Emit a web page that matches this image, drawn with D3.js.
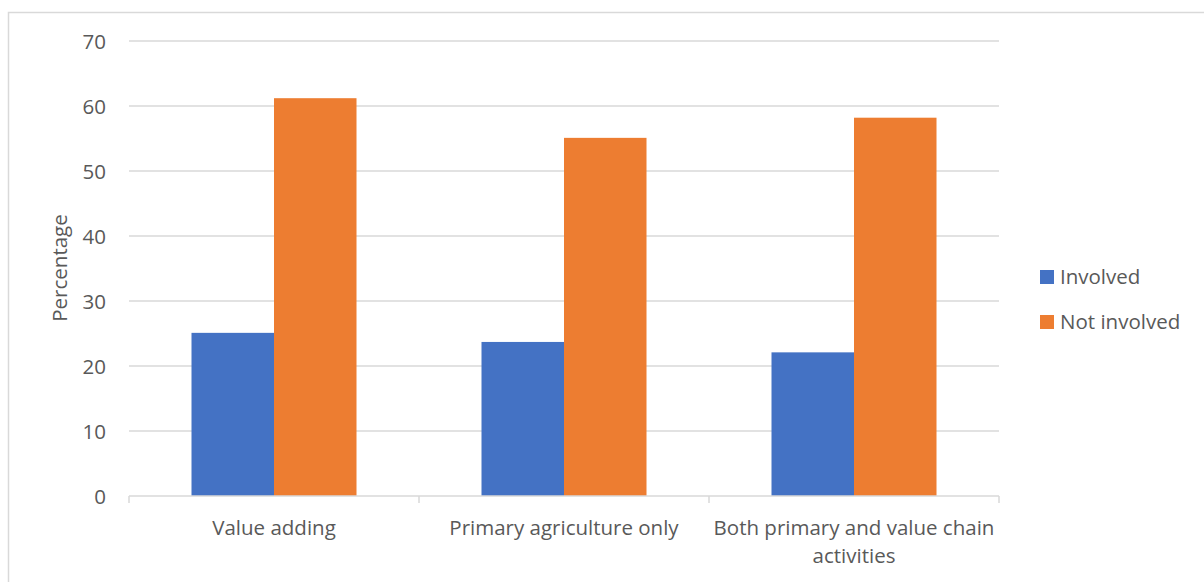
<!DOCTYPE html>
<html><head><meta charset="utf-8">
<script src="https://cdn.jsdelivr.net/npm/d3@7"></script>
<style>body{margin:0;background:#fff;} svg{display:block;font-family:"Open Sans",sans-serif;}</style>
</head><body>
<svg id="c" width="1204" height="582"></svg>
<script>
const categories = ["Value adding", "Primary agriculture only", "Both primary and value chain activities"];
const categoryLines = [["Value adding"], ["Primary agriculture only"], ["Both primary and value chain", "activities"]];
const seriesNames = ["Involved", "Not involved"];
const involved = [25.1, 23.7, 22.1];
const notInvolved = [61.2, 55.1, 58.2];
const yTicks = [0, 10, 20, 30, 40, 50, 60, 70];
const colors = ["#4472c4", "#ed7d31"];

(function () {
const FS = "20.5px";
const svg = d3.select("#c");
svg.append("rect").attr("x", 8.5).attr("y", 12.5).attr("width", 1220).attr("height", 600)
  .attr("fill", "none").attr("stroke", "#d9d9d9").attr("stroke-width", 1.5);

const pL = 129, pR = 999, pT = 41, pB = 496;
const y = d3.scaleLinear().domain([0, 70]).range([pB, pT]);
const x0 = d3.scaleBand().domain(categories).range([pL, pR]).padding(0);
const groupW = 165;
const x1 = d3.scaleBand().domain(seriesNames).range([(x0.bandwidth() - groupW) / 2, (x0.bandwidth() + groupW) / 2]).padding(0);

// gridlines
svg.append("g").selectAll("line").data(yTicks.filter(d => d > 0)).join("line")
  .attr("x1", pL).attr("x2", pR).attr("y1", d => y(d)).attr("y2", d => y(d))
  .attr("stroke", "#d9d9d9").attr("stroke-width", 1.3);

// y axis labels
const yAxis = d3.axisLeft(y).tickValues(yTicks).tickSize(0).tickPadding(0);
const yg = svg.append("g").attr("transform", `translate(106,0)`).call(yAxis);
yg.select(".domain").remove();
yg.selectAll("text").attr("fill", "#595959").style("font-size", FS).style("font-family", "Open Sans").attr("dy", "0.35em");

// bars
const data = categories.map((c, i) => ({c, vals: [involved[i], notInvolved[i]]}));
const g = svg.append("g").selectAll("g").data(data).join("g")
  .attr("transform", d => `translate(${x0(d.c)},0)`);
g.selectAll("rect").data(d => d.vals.map((v, j) => ({s: seriesNames[j], v, j}))).join("rect")
  .attr("x", d => x1(d.s)).attr("width", x1.bandwidth())
  .attr("y", d => y(d.v)).attr("height", d => y(0) - y(d.v))
  .attr("fill", d => colors[d.j]);

// x axis
const xAxis = d3.axisBottom(x0).tickSize(0).tickFormat("");
const xg = svg.append("g").attr("transform", `translate(0,${pB})`).call(xAxis);
xg.select(".domain").attr("stroke", "#d9d9d9").attr("stroke-width", 1.5).attr("d", `M${pL},0H${pR}`);
const bounds = categories.map(c => x0(c)).concat([pR]);
xg.selectAll(".bt").data(bounds).join("line").attr("class", "bt")
  .attr("x1", d => d).attr("x2", d => d).attr("y1", 0).attr("y2", 7)
  .attr("stroke", "#d9d9d9").attr("stroke-width", 1.5);

// category labels
const lab = svg.append("g").selectAll("text").data(categories).join("text")
  .attr("x", c => x0(c) + x0.bandwidth() / 2).attr("y", 535)
  .attr("text-anchor", "middle").attr("fill", "#595959").style("font-size", FS);
lab.each(function(c, i) {
  const t = d3.select(this);
  categoryLines[i].forEach((ln, k) => {
    t.append("tspan").attr("x", x0(c) + x0.bandwidth() / 2).attr("dy", k === 0 ? 0 : 28).text(ln);
  });
});

// y title
svg.append("text").attr("transform", "translate(67,268) rotate(-90)")
  .attr("text-anchor", "middle").attr("fill", "#595959").style("font-size", FS).text("Percentage");

// legend
const lg = svg.append("g").selectAll("g").data(seriesNames).join("g")
  .attr("transform", (d, i) => `translate(1040,${270 + i * 45})`);
lg.append("rect").attr("width", 14).attr("height", 14).attr("fill", (d, i) => colors[i]);
lg.append("text").attr("x", 20).attr("y", 7).attr("dy", "0.35em").attr("fill", "#595959")
  .style("font-size", FS).text(d => d);
})();
</script>
</body></html>
